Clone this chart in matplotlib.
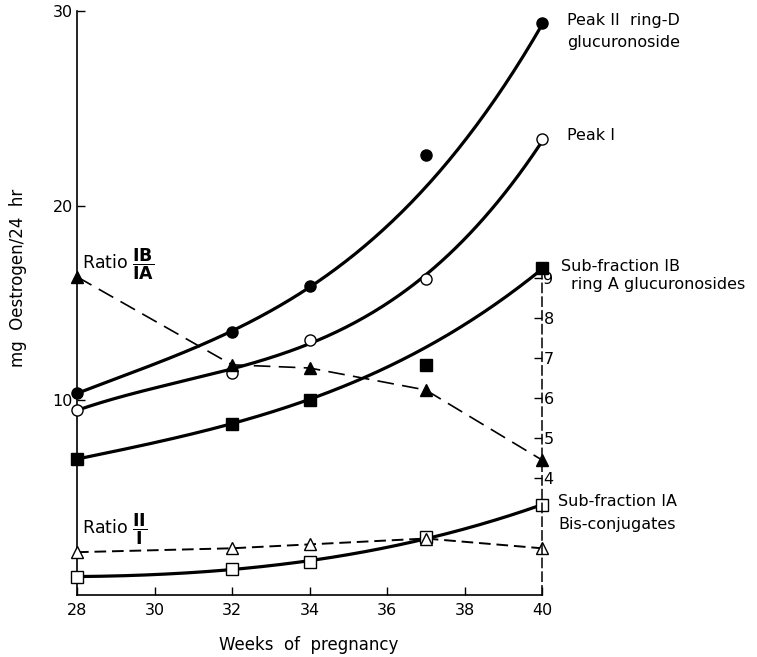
import numpy as np
import matplotlib
matplotlib.use("Agg")
import matplotlib.pyplot as plt

plt.rcParams['font.family'] = ['DejaVu Sans']
plt.rcParams['mathtext.fontset'] = 'dejavusans'

# measured points (weeks of pregnancy)
weeks = [28, 32, 34, 37, 40]
peak2 = [10.4, 13.5, 15.85, 22.6, 29.4]      # Peak II ring-D glucuronoside
peak1 = [9.5, 11.4, 13.1, 16.25, 23.4]       # Peak I
sub_ib = [7.0, 8.8, 10.0, 11.8, 16.8]        # Sub-fraction IB
sub_ia = [0.92, 1.33, 1.7, 2.97, 4.6]        # Sub-fraction IA
ratio_ib_ia = [9.03, 6.83, 6.75, 6.2, 4.45]  # right hand scale
ratio_ii_i = [2.2, 2.4, 2.6, 2.9, 2.4]       # drawn on left scale

# hand drawn trend curves
curve_weeks = [28, 30, 32, 34, 36, 38, 40]
peak2_curve = [10.4, 11.8, 13.5, 15.85, 19.2, 23.0, 29.4]
peak1_curve = [9.6, 10.35, 11.7, 13.1, 15.0, 18.05, 23.4]
sub_ib_curve = [7.0, 7.8, 8.8, 10.0, 11.9, 13.7, 16.8]
sub_ia_curve = [0.92, 1.1, 1.33, 1.7, 2.4, 3.5, 4.6]

fig = plt.figure(figsize=(7.57, 6.57), dpi=100)
ax = fig.add_axes([77/757, 62/657, 465/757, 584/657])
ax.set_xlim(28, 40)
ax.set_ylim(0, 30)

for s in ['top', 'right']:
    ax.spines[s].set_visible(False)
ax.spines['left'].set_linewidth(1.2)
ax.spines['bottom'].set_linewidth(1.2)
ax.set_xticks(range(28, 41, 2))
ax.set_yticks([10, 20, 30])
ax.tick_params(direction='in', length=6, width=1, labelsize=11.5)
ax.tick_params(axis='x', pad=6)
ax.tick_params(axis='y', pad=3)

# smooth trend lines
xs = np.linspace(28, 40, 200)
for c in [peak2_curve, peak1_curve, sub_ib_curve, sub_ia_curve]:
    p = np.polyfit(curve_weeks, c, 3)
    ax.plot(xs, np.polyval(p, xs), color='black', lw=2.3, zorder=2)

mk = dict(linestyle='none', clip_on=False, zorder=5, markeredgecolor='black')
ax.plot(weeks, peak2, marker='o', ms=8, markerfacecolor='black', **mk)
ax.plot(weeks, peak1, marker='o', ms=8, markerfacecolor='white', markeredgewidth=1, **mk)
ax.plot(weeks, sub_ib, marker='s', ms=8, markerfacecolor='black', **mk)
ax.plot(weeks, sub_ia, marker='s', ms=9, markerfacecolor='white', markeredgewidth=1, **mk)

ax.plot(weeks, ratio_ii_i, color='black', lw=1.4, dashes=(6, 3), zorder=3)
ax.plot(weeks, ratio_ii_i, marker='^', ms=8, markerfacecolor='white', markeredgewidth=1, **mk)

# ratio scale on the right (dashed axis at 40 weeks)
ax2 = ax.twinx()
ax2.set_ylim(1.075, 15.675)
for s in ['top', 'left', 'bottom']:
    ax2.spines[s].set_visible(False)
ax2.spines['right'].set_linestyle((0, (6, 3)))
ax2.spines['right'].set_linewidth(1.1)
ax2.spines['right'].set_bounds(1.075, 9.2)
ax2.set_yticks([4, 5, 6, 7, 8, 9])
ax2.tick_params(direction='in', length=6, width=1, labelsize=11.5, pad=1)

ax2.plot(weeks, ratio_ib_ia, color='black', lw=1.2, dashes=(10, 5), zorder=3)
ax2.plot(weeks, ratio_ib_ia, marker='^', ms=8, markerfacecolor='black', **mk)

# labels
fs = 11.5
fig.text(567/757, 1 - 20/657, 'Peak II  ring-D', fontsize=fs, va='center')
fig.text(567/757, 1 - 43/657, 'glucuronoside', fontsize=fs, va='center')
fig.text(567/757, 1 - 135/657, 'Peak I', fontsize=fs, va='center')
fig.text(561/757, 1 - 267/657, 'Sub-fraction IB', fontsize=fs, va='center')
fig.text(571/757, 1 - 284/657, 'ring A glucuronosides', fontsize=fs, va='center')
fig.text(558/757, 1 - 501/657, 'Sub-fraction IA', fontsize=fs, va='center')
fig.text(558/757, 1 - 525/657, 'Bis-conjugates', fontsize=fs, va='center')
fig.text(82/757, 1 - 264/657, r'Ratio $\dfrac{\mathbf{IB}}{\mathbf{IA}}$', fontsize=12.5, va='center')
fig.text(82/757, 1 - 529/657, r'Ratio $\dfrac{\mathbf{II}}{\mathbf{I}}$', fontsize=12.5, va='center')

fig.text(18/757, 1 - 278/657, 'mg  Oestrogen/24  hr', fontsize=12, rotation=90,
         va='center', ha='center')
fig.text(309/757, 1 - 645/657, 'Weeks  of  pregnancy', fontsize=12, ha='center', va='center')

fig.savefig('out.png', dpi=100)
